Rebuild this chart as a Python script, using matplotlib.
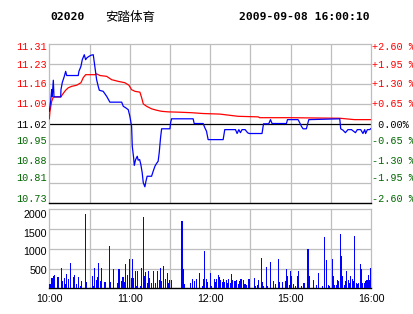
import matplotlib
matplotlib.use('Agg')
import matplotlib.pyplot as plt
import matplotlib.transforms as mtransforms

# ---------------- data ----------------
stock_code = "02020"
stock_name = "安踏体育"
timestamp = "2009-09-08 16:00:10"
prev_close = 11.02
pct_steps = [-2.60, -1.95, -1.30, -0.65, 0.00, 0.65, 1.30, 1.95, 2.60]
time_ticks = [0, 30, 60, 90, 120, 150, 180, 210, 240]
time_labels = ["10:00", "", "11:00", "", "12:00", "", "15:00", "", "16:00"]

price_t = [0, 1.0, 1.8, 2.2, 3.0, 3.5, 8.5, 8.7, 9.7, 11.2, 12.2, 13.0, 21.6, 22.1,
           23.6, 24.6, 26.1, 27.1, 28.1, 29.6, 31.1, 32.8, 34.1, 35.3, 36.5, 37.3,
           40.2, 42.8, 45.2, 54.0, 55.2, 56.9, 58.9, 60.1, 61.4, 61.9, 62.9, 63.4,
           64.4, 65.6, 66.3, 67.4, 68.3, 69.3, 70.1, 71.3, 72.1, 73.0, 76.3, 77.5,
           78.8, 80.0, 81.2, 82.0, 83.0, 83.8, 90.0, 90.5, 91.2, 107.3, 108.1, 114.8,
           116.0, 117.3, 118.5, 129.7, 130.9, 138.9, 140.1, 141.4, 142.6, 143.8,
           146.1, 147.9, 149.1, 158.7, 159.8, 163.7, 165.0, 166.2, 176.9, 177.7,
           185.6, 186.8, 188.1, 189.3, 191.8, 192.6, 193.6, 216.7, 217.4, 219.1,
           220.9, 222.8, 225.4, 228.4, 229.8, 232.3, 234.0, 235.3, 236.0, 237.3,
           239.0, 240.0]
price_v = [11.065, 11.101, 11.143, 11.119, 11.177, 11.117, 11.117, 11.143, 11.169,
           11.191, 11.209, 11.194, 11.194, 11.209, 11.227, 11.251, 11.269, 11.251,
           11.258, 11.263, 11.267, 11.269, 11.222, 11.179, 11.155, 11.141, 11.137,
           11.119, 11.098, 11.098, 11.083, 11.078, 11.071, 11.047, 11.011, 10.939,
           10.898, 10.870, 10.891, 10.903, 10.889, 10.891, 10.873, 10.844, 10.808,
           10.793, 10.813, 10.831, 10.831, 10.849, 10.867, 10.877, 10.885, 10.916,
           10.970, 11.002, 11.002, 11.024, 11.038, 11.038, 11.021, 11.021, 11.006,
           10.993, 10.963, 10.963, 10.999, 10.999, 10.985, 10.999, 10.988, 10.999,
           10.999, 10.988, 10.985, 10.985, 11.020, 11.020, 11.035, 11.021, 11.021,
           11.035, 11.035, 11.024, 11.011, 11.002, 11.002, 11.017, 11.035, 11.038,
           11.002, 10.997, 10.988, 10.999, 10.999, 10.988, 10.999, 10.999, 10.985,
           10.999, 10.985, 10.999, 10.999, 11.003]

avg_t = [0, 0.5, 1.8, 3.0, 8.7, 9.7, 12.2, 14.2, 16.7, 20.4, 23.6, 25.3, 27.1, 34.1,
         35.3, 37.8, 42.8, 46.5, 51.4, 56.4, 59.4, 61.4, 63.9, 67.6, 68.9, 70.1,
         72.6, 76.3, 80.0, 83.8, 88.7, 96.1, 106.1, 114.8, 127.2, 140.9, 155.8,
         157.0, 179.4, 216.7, 227.8, 240.0]
avg_v = [11.038, 11.065, 11.101, 11.117, 11.117, 11.125, 11.141, 11.150, 11.155,
         11.159, 11.168, 11.186, 11.197, 11.197, 11.200, 11.194, 11.191, 11.179,
         11.173, 11.168, 11.159, 11.143, 11.137, 11.134, 11.114, 11.092, 11.083,
         11.074, 11.069, 11.065, 11.063, 11.062, 11.060, 11.057, 11.055, 11.047,
         11.045, 11.042, 11.042, 11.040, 11.035, 11.035]

vol_t = [0, 1, 2, 3, 4, 6, 7, 9, 10, 11, 12, 13, 14, 16, 18, 19, 20, 22, 23, 24, 27, 28,
         32, 33, 34, 35, 36, 37, 38, 39, 41, 42, 45, 46, 48, 51, 52, 54, 55, 56, 57, 58,
         60, 61, 62, 63, 64, 65, 66, 68, 69, 70, 71, 72, 73, 74, 75, 76, 78, 79, 81, 82,
         83, 84, 85, 87, 88, 89, 90, 91, 99, 100, 101, 105, 107, 108, 110, 112, 114,
         115, 116, 117, 118, 120, 121, 123, 124, 125, 126, 127, 128, 129, 130, 131,
         132, 133, 134, 135, 136, 137, 138, 139, 140, 141, 142, 143, 145, 146, 147,
         149, 153, 154, 155, 156, 158, 159, 160, 162, 163, 165, 167, 169, 171, 172,
         174, 176, 177, 178, 179, 180, 181, 182, 184, 185, 186, 188, 190, 193, 194,
         197, 199, 201, 204, 205, 207, 208, 209, 211, 212, 213, 214, 215, 216, 217,
         218, 219, 220, 221, 222, 223, 224, 225, 226, 227, 228, 229, 230, 231, 232,
         233, 234, 235, 236, 237, 238, 239, 240]
vol_v = [120, 120, 270, 330, 360, 310, 310, 540, 200, 270, 130, 390, 240, 690, 300, 360,
         120, 310, 60, 200, 2010, 170, 340, 60, 540, 220, 310, 690, 190, 540, 180, 180,
         1150, 170, 520, 150, 520, 190, 310, 160, 650, 370, 790, 290, 800, 290, 480, 60,
         460, 60, 540, 1920, 320, 430, 150, 470, 270, 150, 470, 150, 470, 230, 540, 200,
         600, 240, 410, 150, 220, 230, 1820, 520, 120, 140, 240, 200, 240, 420, 60, 240,
         1010, 250, 160, 420, 60, 250, 180, 240, 360, 310, 230, 180, 240, 160, 220, 140,
         240, 150, 380, 220, 200, 190, 230, 110, 200, 240, 230, 120, 100, 250, 270, 60,
         90, 230, 820, 180, 60, 580, 60, 700, 200, 110, 800, 180, 170, 210, 510, 330, 90,
         470, 330, 110, 60, 330, 470, 60, 140, 1070, 320, 230, 90, 420, 60, 1390, 770,
         90, 60, 800, 330, 100, 90, 230, 200, 1470, 880, 330, 90, 210, 480, 230, 150,
         320, 260, 210, 1420, 140, 120, 140, 660, 510, 150, 140, 200, 230, 360, 230, 550]
vol_ticks = [500, 1000, 1500, 2000]
vol_top = 2140

# ---------------- style ----------------
RED = '#FF0000'
GREEN = '#006600'
BLUE = '#0000FF'
GRID = '#BEBEBE'
W, H = 414, 314

fig = plt.figure(figsize=(W / 100, H / 100), dpi=100)
fig.patch.set_facecolor('white')

# ---- price panel ----
ax = fig.add_axes([49.3 / W, (H - 203.3) / H, 321.7 / W, 159 / H])
lo = prev_close * (1 + pct_steps[0] / 100)
hi = prev_close * (1 + pct_steps[-1] / 100)
ax.set_xlim(0, 240)
ax.set_ylim(lo, hi)
price_ticks = [prev_close * (1 + p / 100) for p in pct_steps]
ax.set_yticks(price_ticks)
ax.set_yticklabels([f"{v:.2f}" for v in price_ticks])
ax.set_xticks(time_ticks)
ax.set_xticklabels([])
ax.tick_params(length=0)
ax.tick_params(axis='y', pad=1.8)
for t in time_ticks[1:-1]:
    ax.axvline(t, color=GRID, lw=0.9, zorder=1)
for pt, p in zip(price_ticks[1:-1], pct_steps[1:-1]):
    if p != 0:
        ax.axhline(pt, color=GRID, lw=0.9, zorder=1)
for side in ['top', 'left', 'right']:
    ax.spines[side].set_color(GRID)
    ax.spines[side].set_linewidth(0.9)
ax.spines['bottom'].set_color('black')
ax.spines['bottom'].set_linewidth(1.0)
ax.axhline(prev_close, color='black', lw=0.9, zorder=2)
ax.plot(avg_t, avg_v, color=RED, lw=0.9, zorder=3)
ax.plot(price_t, price_v, color=BLUE, lw=0.9, zorder=4)

label_shift_px = [5.7, 6.0, 3.7, 3.3, 0.0, 1.3, 0.7, 0.0, -1.3]
for lab, p, sh in zip(ax.get_yticklabels(), pct_steps, label_shift_px):
    lab.set_fontfamily('Liberation Mono')
    lab.set_fontsize(7.3)
    lab.set_color(RED if p > 0 else ('black' if p == 0 else GREEN))
    lab.set_transform(lab.get_transform() + mtransforms.ScaledTranslation(0, sh / 100, fig.dpi_scale_trans))

axr = ax.twinx()
axr.set_ylim(pct_steps[0], pct_steps[-1])
axr.set_yticks(pct_steps)
rlabels = []
for p in pct_steps:
    if p > 0:
        rlabels.append(f"+{p:.2f} %")
    elif p == 0:
        rlabels.append(" 0.00%")
    else:
        rlabels.append(f"-{abs(p):.2f} %")
axr.set_yticklabels(rlabels)
axr.tick_params(length=0, pad=0.5)
for side in ['top', 'left', 'right', 'bottom']:
    axr.spines[side].set_visible(False)
for lab, p, sh in zip(axr.get_yticklabels(), pct_steps, label_shift_px):
    lab.set_fontfamily('Liberation Mono')
    lab.set_fontsize(7.3)
    lab.set_color(RED if p > 0 else ('black' if p == 0 else GREEN))
    lab.set_transform(lab.get_transform() + mtransforms.ScaledTranslation(0, sh / 100, fig.dpi_scale_trans))

# ---- volume panel ----
av = fig.add_axes([49.3 / W, (H - 288.3) / H, 321.7 / W, 79 / H])
av.set_xlim(0, 240)
av.set_ylim(0, vol_top)
for t in time_ticks[1:-1]:
    av.axvline(t, color=GRID, lw=0.9, zorder=1)
for f in (0.25, 0.5, 0.75):
    av.axhline(vol_top * f, color=GRID, lw=0.9, zorder=1)
av.bar(vol_t, vol_v, width=0.8, color=BLUE, linewidth=0, zorder=3)
av.set_yticks(vol_ticks)
av.set_yticklabels([str(v) for v in vol_ticks])
av.set_xticks(time_ticks)
av.set_xticklabels(time_labels)
av.tick_params(which='both', length=0)
av.tick_params(axis='y', pad=1.8)
av.tick_params(axis='x', pad=4.2)
for lab in av.get_yticklabels() + av.get_xticklabels():
    lab.set_fontfamily('Liberation Sans')
    lab.set_fontsize(7.7)
    lab.set_color('black')
for side in ['top', 'left', 'right']:
    av.spines[side].set_color(GRID)
    av.spines[side].set_linewidth(0.9)
av.spines['bottom'].set_color('black')
av.spines['bottom'].set_linewidth(1.0)

# ---- header ----
ty = 1 - 17 / H
fig.text(50 / W, ty, stock_code, fontfamily='DejaVu Sans Mono', fontweight='bold',
         fontsize=8.2, va='center', ha='left')
fig.text(105 / W, ty, stock_name, fontfamily=['Noto Sans CJK SC', 'DejaVu Sans'],
         fontsize=9, va='center', ha='left')
fig.text(370 / W, ty, timestamp, fontfamily='DejaVu Sans Mono', fontweight='bold',
         fontsize=8.2, va='center', ha='right')

fig.savefig('out.png', dpi=100)
